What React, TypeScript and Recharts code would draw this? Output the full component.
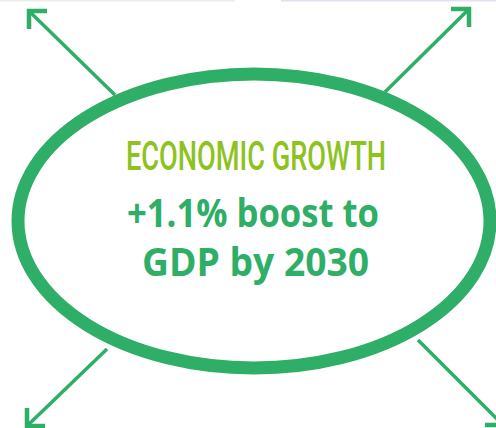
import { ScatterChart, Scatter, XAxis, YAxis, ReferenceArea, ReferenceLine, Customized } from 'recharts';

// arrow tails sit on the ellipse, tips point outwards (pixel-like data units)
const arrowNames = ['topLeft', 'topRight', 'bottomLeft', 'bottomRight'];
const arrowTailX = [115, 385, 107, 418];
const arrowTailY = [95, 92, 349, 340];
const arrowTipX = [29, 469, 27, 503];
const arrowTipY = [11, 9, 426, 425];

// ellipse bounding box (stroke centre line)
const ellipseX = [18, 490];
const ellipseY = [74, 368];

const titleText = 'ECONOMIC GROWTH';
const statLines = ['+1.1% boost to', 'GDP by 2030'];

const GREEN = '#2eae66';
const LIME = '#8dc21f';

const arrows = arrowNames.map((name, i) => ({
  name,
  data: [
    { x: arrowTailX[i], y: arrowTailY[i], end: 'tail' },
    { x: arrowTipX[i], y: arrowTipY[i], end: 'tip' },
  ],
}));

const ArrowHead = (props: any) => {
  const { cx, cy, payload, index, arrow } = props;
  if (!payload || payload.end !== 'tip') return <g />;
  const sx = Math.sign(arrowTipX[arrow] - arrowTailX[arrow]);
  const sy = Math.sign(arrowTipY[arrow] - arrowTailY[arrow]);
  const len = 18;
  return (
    <g key={`head-${index}`}>
      <path
        d={`M${cx - sx * len},${cy} L${cx},${cy} L${cx},${cy - sy * len}`}
        fill="none"
        stroke={GREEN}
        strokeWidth={4.5}
        strokeLinecap="butt"
        strokeLinejoin="miter"
      />
    </g>
  );
};

const EllipseShape = (props: any) => {
  const { x, y, width, height } = props;
  return (
    <ellipse
      cx={x + width / 2}
      cy={y + height / 2}
      rx={width / 2}
      ry={height / 2}
      fill="none"
      stroke={GREEN}
      strokeWidth={13}
    />
  );
};

const Texts = () => (
  <g>
    <text
      x={256}
      y={170}
      textAnchor="middle"
      fill={LIME}
      fontFamily="'Roboto', 'Open Sans', sans-serif"
      fontWeight={500}
      fontSize={41}
      textLength={260}
      lengthAdjust="spacingAndGlyphs"
    >
      {titleText}
    </text>
    <text
      x={253}
      y={227}
      textAnchor="middle"
      fill={GREEN}
      fontFamily="'Open Sans', 'Noto Sans', sans-serif"
      fontWeight="bold"
      fontSize={40}
      textLength={252}
      lengthAdjust="spacingAndGlyphs"
    >
      {statLines[0]}
    </text>
    <text
      x={255.5}
      y={276}
      textAnchor="middle"
      fill={GREEN}
      fontFamily="'Open Sans', 'Noto Sans', sans-serif"
      fontWeight="bold"
      fontSize={40}
      textLength={227}
      lengthAdjust="spacingAndGlyphs"
    >
      {statLines[1]}
    </text>
  </g>
);

export default function App() {
  return (
    <div style={{ width: 496, height: 428, background: '#fff' }}>
      <style>{'body{margin:0}'}</style>
      <ScatterChart width={496} height={428} margin={{ top: 0, right: 0, bottom: 0, left: 0 }}>
        <XAxis type="number" dataKey="x" domain={[0, 496]} hide allowDataOverflow />
        <YAxis type="number" dataKey="y" domain={[0, 428]} reversed hide allowDataOverflow />
        <ReferenceLine
          segment={[{ x: 0, y: 0.5 }, { x: 235, y: 0.5 }]}
          stroke="#e6f0e6"
          strokeWidth={2}
          ifOverflow="visible"
        />
        <ReferenceLine
          segment={[{ x: 281, y: 0.5 }, { x: 496, y: 0.5 }]}
          stroke="#e6dff0"
          strokeWidth={2}
          ifOverflow="visible"
        />
        {arrows.map((a, i) => (
          <Scatter
            key={a.name}
            name={a.name}
            data={a.data}
            line={{ stroke: GREEN, strokeWidth: 3.5 }}
            shape={(p: any) => <ArrowHead {...p} arrow={i} />}
            isAnimationActive={false}
          />
        ))}
        <ReferenceArea
          x1={ellipseX[0]}
          x2={ellipseX[1]}
          y1={ellipseY[0]}
          y2={ellipseY[1]}
          shape={EllipseShape}
          ifOverflow="visible"
        />
        <Customized component={Texts} />
      </ScatterChart>
    </div>
  );
}
